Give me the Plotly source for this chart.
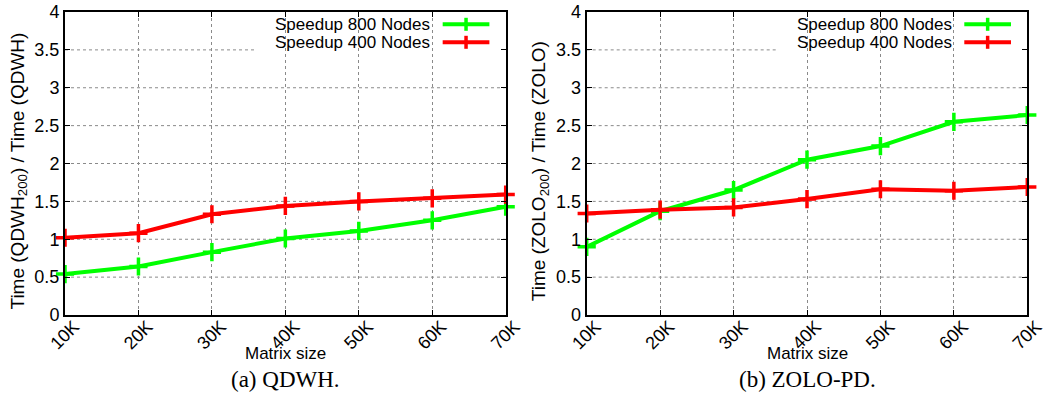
import plotly.graph_objects as go

# ---- data ----
matrix_sizes = ["10K", "20K", "30K", "40K", "50K", "60K", "70K"]
qdwh_800 = [0.54, 0.64, 0.83, 1.01, 1.11, 1.25, 1.43]
qdwh_400 = [1.02, 1.08, 1.33, 1.44, 1.50, 1.54, 1.59]
zolo_800 = [0.90, 1.37, 1.65, 2.05, 2.23, 2.55, 2.64]
zolo_400 = [1.34, 1.39, 1.42, 1.53, 1.66, 1.64, 1.69]
series_names = ["Speedup 800 Nodes", "Speedup 400 Nodes"]
series_colors = ["#00ff00", "#ff0000"]
y_titles = ["Time (QDWH<sub>200</sub>) / Time (QDWH)", "Time (ZOLO<sub>200</sub>) / Time (ZOLO)"]
captions = ["(a) QDWH.", "(b) ZOLO-PD."]
y_tick_values = [0, 0.5, 1, 1.5, 2, 2.5, 3, 3.5, 4]
y_grid_values = [0.5, 1.0, 1.5, 2.0, 2.5, 3.0, 3.5]

W, H = 1050, 399
SANS = "Liberation Sans, Arial, sans-serif"
SERIF = "Liberation Serif, Times New Roman, serif"


def px_x(p):
    return p / W


def px_y(p):
    return 1 - p / H


fig = go.Figure()

panels = [
    ("x", "y", [qdwh_800, qdwh_400]),
    ("x2", "y2", [zolo_800, zolo_400]),
]
for xa, ya, data in panels:
    for vals, name, col in zip(data, series_names, series_colors):
        fig.add_trace(go.Scatter(
            x=matrix_sizes, y=vals, xaxis=xa, yaxis=ya, name=name,
            mode="lines+markers", cliponaxis=False, showlegend=False,
            hoverinfo="skip",
            line=dict(color=col, width=4),
            marker=dict(symbol="cross-thin", size=13, color=col,
                        line=dict(color=col, width=3.5)),
        ))

x_doms = [[px_x(65), px_x(505.7)], [px_x(586.7), px_x(1027.3)]]
y_dom = [px_y(315), px_y(12)]

axis_common = dict(
    showline=True, linecolor="black", linewidth=2, mirror="ticks",
    ticks="inside", ticklen=5, tickwidth=1, tickcolor="black",
    tickfont=dict(family=SANS, size=18, color="black"),
    zeroline=False, automargin=False, ticklabeloverflow="allow",
)
for i, xd in enumerate(x_doms):
    sfx = "" if i == 0 else "2"
    fig.update_layout(**{
        "xaxis" + sfx: dict(
            domain=xd, anchor="y" + sfx, type="category",
            range=[0, len(matrix_sizes) - 1], tickangle=-45,
            ticklabelshift=9, ticklabelstandoff=-8,
            showgrid=True, gridcolor="#8a8a8a", gridwidth=1, griddash="dot",
            **axis_common),
        "yaxis" + sfx: dict(
            domain=y_dom, anchor="x" + sfx, range=[0, 4.0001],
            tickvals=y_tick_values,
            showgrid=False, **axis_common),
    })

shapes = []
annotations = []
for i in range(2):
    xr = "x domain" if i == 0 else "x2 domain"
    yr_dom = "y domain" if i == 0 else "y2 domain"
    yr = "y" if i == 0 else "y2"
    # horizontal grid lines (the top one is hidden behind the key)
    for gv in y_grid_values:
        x_end = 0.4357 if gv == 3.5 else 1.0
        shapes.append(dict(type="line", xref=xr, yref=yr, x0=0, x1=x_end,
                           y0=gv, y1=gv, layer="below",
                           line=dict(color="#8a8a8a", width=1, dash="dot")))
    # key
    row_y = [0.9594, 0.900]
    half_cross = 6.5 / 303
    for ry, name, col in zip(row_y, series_names, series_colors):
        annotations.append(dict(text=name, xref=xr, yref=yr_dom, x=0.8328, y=ry,
                                xanchor="right", yanchor="middle", showarrow=False,
                                font=dict(family=SANS, size=17, color="black")))
        shapes.append(dict(type="line", xref=xr, yref=yr_dom, x0=0.857, x1=0.963,
                           y0=ry, y1=ry, line=dict(color=col, width=4)))
        shapes.append(dict(type="line", xref=xr, yref=yr_dom, x0=0.910, x1=0.910,
                           y0=ry - half_cross, y1=ry + half_cross,
                           line=dict(color=col, width=3.5)))
    xc = (x_doms[i][0] + x_doms[i][1]) / 2
    # y-axis title
    annotations.append(dict(text=y_titles[i], xref="paper", yref="paper",
                            x=x_doms[i][0] - 46.5 / W, y=px_y(171),
                            textangle=-90, xanchor="center", yanchor="middle",
                            showarrow=False,
                            font=dict(family=SANS, size=19, color="black")))
    # x-axis title
    annotations.append(dict(text="Matrix size", xref="paper", yref="paper",
                            x=xc, y=px_y(353), xanchor="center", yanchor="middle",
                            showarrow=False,
                            font=dict(family=SANS, size=17, color="black")))
    # caption
    annotations.append(dict(text=captions[i], xref="paper", yref="paper",
                            x=xc, y=px_y(379), xanchor="center", yanchor="middle",
                            showarrow=False,
                            font=dict(family=SERIF, size=23, color="black")))

fig.update_layout(
    width=W, height=H, margin=dict(l=0, r=0, t=0, b=0),
    paper_bgcolor="white", plot_bgcolor="white", hovermode=False,
    shapes=shapes, annotations=annotations, showlegend=False,
)

fig.write_html("out.html", config={"displayModeBar": False},
               post_script="document.body.style.margin='0';")
